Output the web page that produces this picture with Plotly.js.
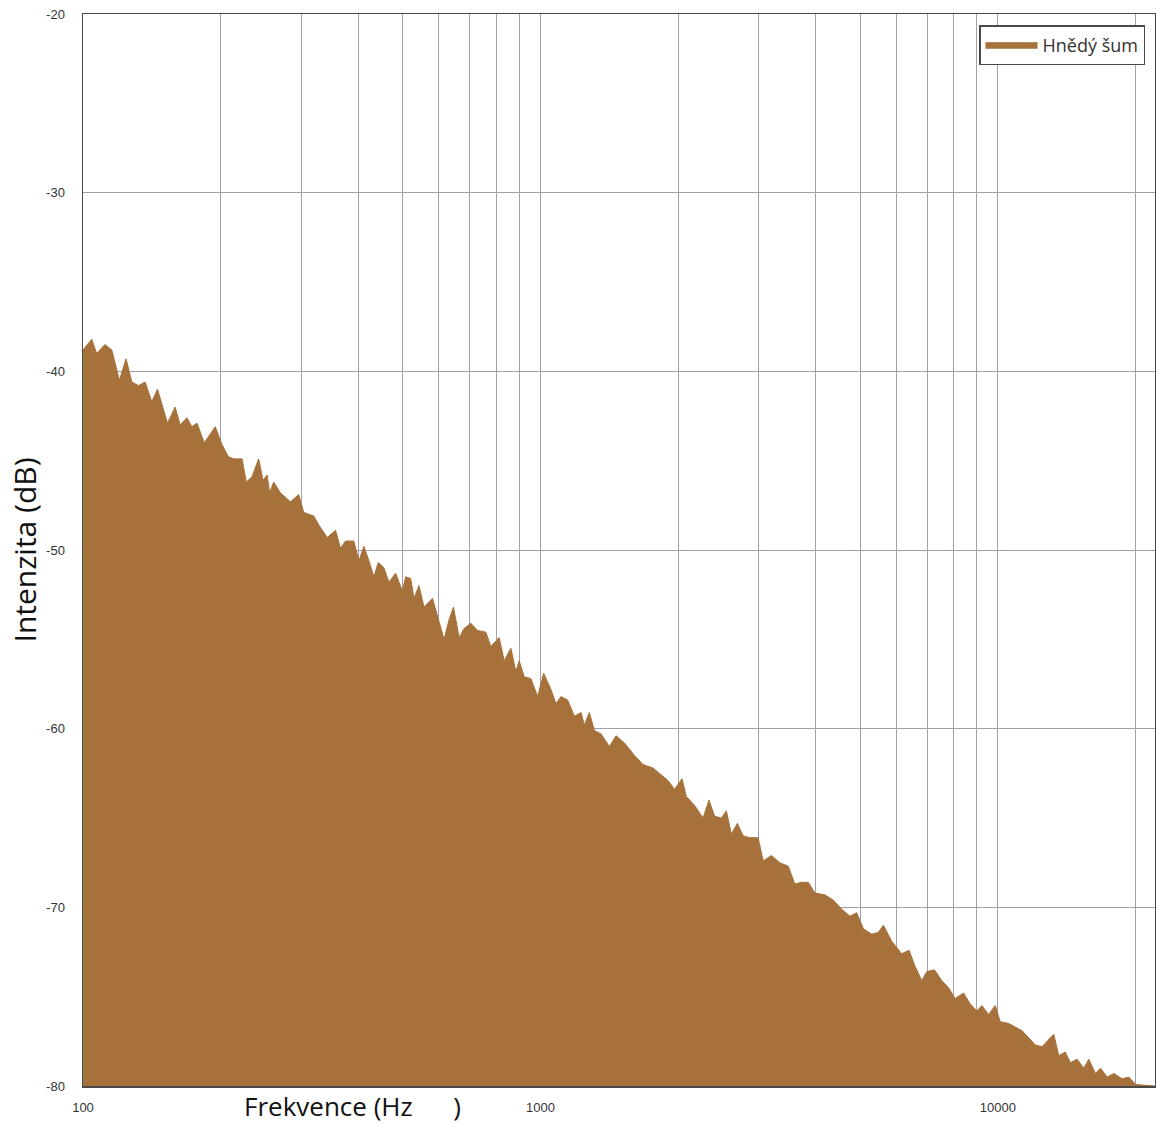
<!DOCTYPE html>
<html>
<head>
<meta charset="utf-8">
<script src="https://cdn.plot.ly/plotly-3.0.1.min.js"></script>
<style>
html,body{margin:0;padding:0;background:#fff;}
#chart{width:1156px;height:1124px;}
</style>
</head>
<body>
<div id="chart"></div>
<script>
// Frequencies (Hz) of sampled points along the spectrum's top edge
const frequencies = [100,104.5,107.1,111.7,115.6,120.1,124.2,127.9,132.2,136.7,141.4,145.5,153.0,159.0,163.1,168.7,173.0,177.5,184.1,194.6,201.3,208.1,214.2,222.7,227.5,234.2,242.1,247.5,252.6,255.9,261.1,270.1,284.1,296.2,303.8,319.5,327.7,341.9,356.5,365.6,374.9,390.9,400.9,411.2,421.7,432.4,442.1,454.8,466.4,482.4,499.1,507.4,520.4,529.1,542.6,556.5,580.6,595.4,615.5,631.3,645.5,664.0,680.9,704.3,728.5,759.7,779.1,812.3,833.1,861.7,883.7,898.5,921.5,953.1,986.0,1016,1054,1081,1109,1147,1186,1227,1247,1279,1312,1357,1415,1463,1526,1605,1675,1761,1836,1900,1964,2039,2084,2173,2267,2336,2403,2486,2549,2614,2695,2773,2867,2991,3068,3199,3336,3481,3598,3722,3850,3980,4186,4367,4554,4749,4912,5081,5297,5479,5619,5859,6162,6393,6590,6816,6990,7267,7539,7798,8062,8411,8696,8995,9225,9542,9865,10117,10554,10912,11287,11675,12070,12486,12805,13245,13583,14043,14401,14896,15408,15802,16337,16754,17330,17926,18691,19334,19989,20676,22050];

// Intensity (dB) of the brown noise spectrum at those frequencies
const intensityDb = [-38.8,-38.2,-39.0,-38.5,-38.8,-40.5,-39.3,-40.6,-40.8,-40.6,-41.7,-41.0,-42.9,-42.0,-43.0,-42.6,-43.1,-42.9,-44.0,-43.1,-44.1,-44.8,-44.9,-44.9,-46.2,-45.9,-44.9,-46.1,-45.8,-46.8,-46.2,-46.8,-47.3,-46.9,-47.9,-48.1,-48.6,-49.3,-48.9,-49.9,-49.5,-49.5,-50.6,-49.8,-50.6,-51.5,-50.7,-51.0,-51.8,-51.3,-52.3,-51.5,-51.6,-52.7,-52.0,-53.2,-52.7,-53.7,-55.0,-53.9,-53.2,-54.9,-54.4,-54.1,-54.5,-54.6,-55.4,-54.9,-56.2,-55.5,-56.8,-56.2,-57.1,-57.2,-58.2,-56.9,-57.8,-58.6,-58.2,-58.4,-59.3,-59.1,-59.8,-59.1,-60.1,-60.3,-61.0,-60.4,-60.8,-61.5,-62.0,-62.2,-62.6,-62.9,-63.4,-62.8,-63.8,-64.3,-65.0,-64.0,-64.9,-65.0,-64.6,-65.9,-65.3,-66.0,-66.1,-66.1,-67.4,-67.1,-67.5,-67.7,-68.7,-68.6,-68.6,-69.2,-69.3,-69.6,-70.1,-70.5,-70.3,-71.2,-71.5,-71.4,-71.0,-71.9,-72.6,-72.4,-73.3,-74.1,-73.6,-73.5,-74.1,-74.5,-75.1,-74.8,-75.4,-75.8,-75.5,-76.0,-75.5,-76.4,-76.5,-76.7,-76.9,-77.3,-77.7,-77.8,-77.5,-77.1,-78.3,-78.1,-78.7,-78.5,-79.0,-78.5,-79.3,-79.0,-79.5,-79.3,-79.6,-79.5,-79.9,-79.95,-80];

const seriesName = "Hnědý šum";
const xTickVals = [100, 1000, 10000];
const xTickText = ["100", "1000", "10000"];
const yTickVals = [-80, -70, -60, -50, -40, -30, -20];
const yTickText = ["-80", "-70", "-60", "-50", "-40", "-30", "-20"];
const yFloor = -80;
const yTop = -20;
const xMin = 100;
const xMax = 22050;

const baseline = frequencies.map(() => yFloor);

const brown = "rgb(166,113,58)";
const gridCol = "#a0a0a8";
const frameCol = "#4a4a4a";

const traces = [
  {
    x: frequencies, y: baseline, type: "scatter", mode: "lines",
    line: {color: "rgba(0,0,0,0)", width: 0},
    showlegend: false, hoverinfo: "skip"
  },
  {
    x: frequencies, y: intensityDb, type: "scatter", mode: "lines",
    name: seriesName,
    fill: "tonexty", fillcolor: brown,
    line: {color: brown, width: 1, shape: "linear"}
  }
];

const layout = {
  width: 1156, height: 1124,
  margin: {l: 83, r: 1, t: 14, b: 38},
  paper_bgcolor: "#ffffff",
  plot_bgcolor: "#ffffff",
  font: {family: "Liberation Sans, Arial, sans-serif", color: "#333333", size: 13},
  xaxis: {
    type: "log",
    range: [Math.log10(xMin), Math.log10(xMax)],
    tickvals: xTickVals, ticktext: xTickText,
    ticks: "", ticklabelstandoff: 9,
    showgrid: true, gridcolor: gridCol, gridwidth: 1,
    minor: {showgrid: true, gridcolor: gridCol, gridwidth: 1, dtick: "D1", ticks: ""},
    showline: true, linecolor: frameCol, linewidth: 1.5, mirror: true,
    zeroline: false,
    tickfont: {size: 13, color: "#333333"}
  },
  yaxis: {
    range: [yFloor, yTop],
    tickvals: yTickVals, ticktext: yTickText,
    ticks: "", ticklabelstandoff: 14,
    showgrid: true, gridcolor: gridCol, gridwidth: 1,
    showline: true, linecolor: frameCol, linewidth: 1.5, mirror: true,
    zeroline: false,
    tickfont: {size: 13, color: "#333333"},
    title: {text: "Intenzita (dB)", font: {family: "Open Sans, sans-serif", size: 30, color: "#111111"}, standoff: 0}
  },
  legend: {
    x: 0.9907, y: 0.9897, xanchor: "right", yanchor: "top",
    bgcolor: "#ffffff", bordercolor: frameCol, borderwidth: 1.5,
    itemwidth: 52,
    font: {family: "Open Sans, sans-serif", size: 18, color: "#333333"}
  },
  annotations: [
    {
      text: "Frekvence (Hz\u00a0\u00a0\u00a0\u00a0\u00a0\u00a0)",
      xref: "paper", yref: "paper", x: 0.251, y: 0,
      xanchor: "center", yanchor: "top", yshift: 0,
      showarrow: false,
      font: {family: "Open Sans, sans-serif", size: 26, color: "#111111"}
    }
  ]
};

Plotly.newPlot("chart", traces, layout, {staticPlot: true, displayModeBar: false});
</script>
</body>
</html>
